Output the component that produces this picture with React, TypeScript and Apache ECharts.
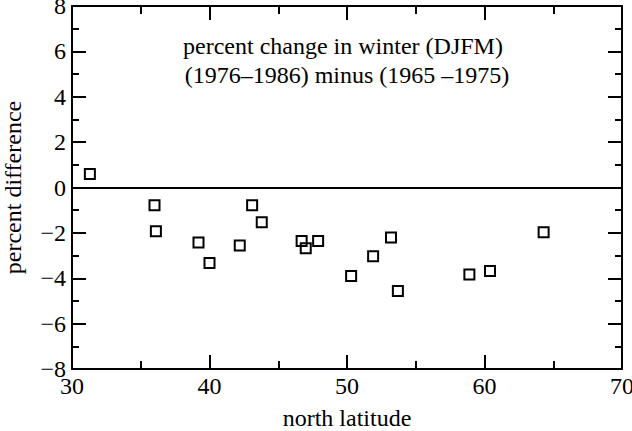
import React, { useEffect, useRef } from "react";
import * as echarts from "echarts";

const latitudes = [31.3, 36.0, 36.1, 39.2, 40.0, 43.1, 43.8, 42.2, 46.7, 47.0, 47.9, 50.3, 51.9, 53.2, 53.7, 58.9, 60.4, 64.3];
const percentDiff = [0.6, -0.78, -1.93, -2.42, -3.33, -0.78, -1.53, -2.56, -2.36, -2.68, -2.36, -3.9, -3.03, -2.2, -4.56, -3.84, -3.68, -1.97];
const titleLines = ["percent change in winter (DJFM)", "(1976\u20131986) minus (1965 \u20131975)"];
const xName = "north latitude";
const yName = "percent difference";

const FONT = "Times New Roman, Liberation Serif, DejaVu Serif, serif";

export default function App() {
  const ref = useRef<HTMLDivElement>(null);
  useEffect(() => {
    if (!ref.current) return;
    const chart = echarts.init(ref.current, null, { renderer: "svg" });
    const axisLine = { show: true, onZero: false, lineStyle: { color: "#000", width: 2 } };
    const minus = (v: number) => String(v).replace("-", "\u2212");
    const xCommon = {
      type: "value" as const,
      min: 30,
      max: 70,
      interval: 10,
      axisLine,
      axisTick: { show: true, inside: true, length: 14, lineStyle: { color: "#000", width: 2 } },
      minorTick: { show: true, splitNumber: 2, length: 8, lineStyle: { color: "#000", width: 2 } },
      splitLine: { show: false },
      minorSplitLine: { show: false },
    };
    const yCommon = {
      type: "value" as const,
      min: -8,
      max: 8,
      interval: 2,
      axisLine,
      axisTick: { show: true, inside: true, length: 14, lineStyle: { color: "#000", width: 2 } },
      minorTick: { show: true, splitNumber: 2, length: 7, lineStyle: { color: "#000", width: 2 } },
      splitLine: { show: false },
      minorSplitLine: { show: false },
    };
    const textStyle = { color: "#000", fontFamily: FONT, fontSize: 24 };
    chart.setOption({
      animation: false,
      backgroundColor: "#fff",
      textStyle: { fontFamily: FONT },
      grid: { left: 72, right: 10, top: 6, bottom: 62, containLabel: false, outerBoundsMode: "none" },
      xAxis: [
        {
          ...xCommon,
          position: "bottom",
          axisLabel: { ...textStyle, margin: 5, formatter: minus },
          name: xName,
          nameLocation: "middle",
          nameGap: 37,
          nameTextStyle: textStyle,
        },
        { ...xCommon, position: "top", axisLabel: { show: false } },
      ],
      yAxis: [
        {
          ...yCommon,
          position: "left",
          axisLabel: { ...textStyle, margin: 6, formatter: minus },
          name: yName,
          nameLocation: "middle",
          nameGap: 47,
          nameTextStyle: textStyle,
        },
        { ...yCommon, position: "right", axisLabel: { show: false } },
      ],
      graphic: [
        {
          type: "text",
          x: 343,
          y: 34,
          style: { text: titleLines[0], fontFamily: FONT, fontSize: 24, fill: "#000", textAlign: "center", textVerticalAlign: "top" },
        },
        {
          type: "text",
          x: 347,
          y: 63,
          style: { text: titleLines[1], fontFamily: FONT, fontSize: 24, fill: "#000", textAlign: "center", textVerticalAlign: "top" },
        },
      ],
      series: [
        {
          type: "scatter",
          xAxisIndex: 0,
          yAxisIndex: 0,
          symbol: "rect",
          symbolSize: 10,
          itemStyle: { color: "rgba(255,255,255,0)", borderColor: "#000", borderWidth: 2, opacity: 1 },
          data: latitudes.map((x, i) => [x, percentDiff[i]]),
          markLine: {
            silent: true,
            symbol: "none",
            label: { show: false },
            lineStyle: { color: "#000", width: 2, type: "solid" },
            data: [{ yAxis: 0 }],
          },
        },
      ],
    });
    return () => chart.dispose();
  }, []);
  return <div ref={ref} style={{ width: 632, height: 431, position: "absolute", left: 0, top: 0 }} />;
}
